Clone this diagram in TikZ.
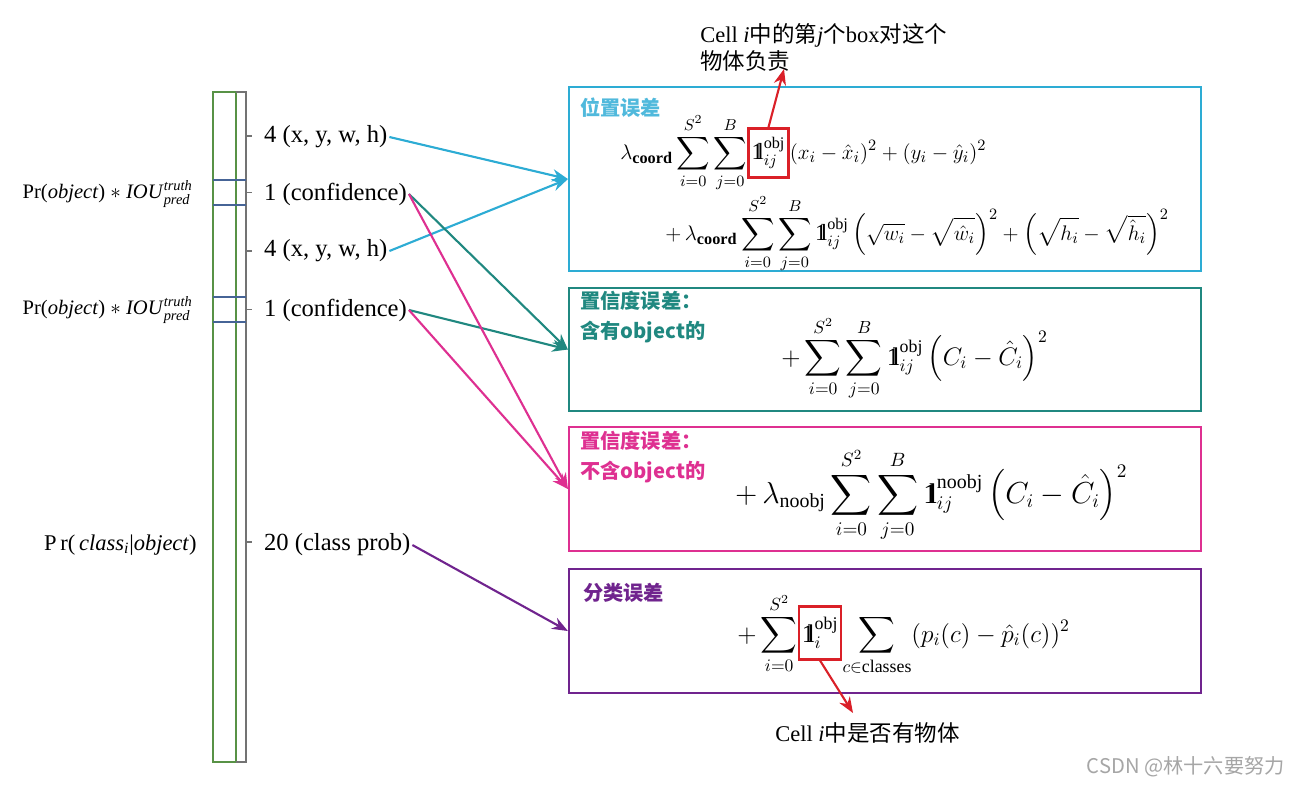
\documentclass[tikz,border=0pt]{standalone}
\usepackage{amsmath, amssymb}
\usepackage{fontspec}
\setmainfont{Liberation Serif}
\newfontfamily\cjk{Noto Sans CJK SC}
\usepackage{tikz}
\usetikzlibrary{arrows.meta,positioning,calc}

\definecolor{locblue}{RGB}{45,172,212}
\definecolor{loctitle}{RGB}{80,185,220}
\definecolor{confteal}{RGB}{32,136,128}
\definecolor{noobjpink}{RGB}{222,48,145}
\definecolor{clspurple}{RGB}{112,36,142}
\definecolor{markred}{RGB}{218,32,40}
\definecolor{vecgreen}{RGB}{88,146,70}
\definecolor{slate}{RGB}{70,100,150}

\newcommand{\indic}{\mathrm{1}\mkern-5mu\mathrm{l}}

\begin{document}
\begin{tikzpicture}[
    x=0.02cm, y=-0.02cm,
    errbox/.style={rectangle, draw=#1, line width=1.3pt, minimum width=12.64cm, minimum height=2.47cm, inner sep=0pt},
    boxtitle/.style={anchor=north west, align=left, text=#1, inner sep=0pt, font=\cjk\bfseries\fontsize{11.5}{17}\selectfont},
    field/.style={anchor=west, inner sep=1pt, font=\fontsize{14}{16}\selectfont},
    prlabel/.style={anchor=east, inner sep=0pt, font=\fontsize{#1}{13}\selectfont},
    prlabel/.default=11.7,
    formula/.style={anchor=base west, inner sep=0pt, font=\fontsize{#1}{#1}\selectfont},
    formula/.default=13.2,
    redbox/.style={draw=markred, line width=1.3pt, inner sep=1pt},
    arrow/.style={-{Stealth[length=9pt,width=7pt]}, line width=1.2pt, draw=#1},
    note/.style={anchor=west, align=left, inner sep=0pt, font=\fontsize{12.8}{15.4}\selectfont}
]
\fill[white] (0,0) rectangle (1297,785);
\useasboundingbox (0,0) rectangle (1297,785);

\draw[vecgreen, line width=1pt] (213,92) rectangle (236,762);
\foreach \a/\b in {92/180,180/205,205/297,297/322,322/762}
  \draw[black!55, line width=0.6pt] (236,\a) -- (246,\a) -- (246,\b) -- (236,\b)
    (246,{(\a+\b)/2}) -- (252,{(\a+\b)/2});
\foreach \y in {180,205,297,322}
  \draw[slate, line width=1pt] (213,\y) -- (246,\y);

\node[field] (xywh1) at (262,137) {4 (x, y, w, h)};
\node[field] (conf1) at (262,194) {1 (confidence)};
\node[field] (xywh2) at (262,251) {4 (x, y, w, h)};
\node[field] (conf2) at (262,310) {1 (confidence)};
\node[field] (cls) at (262,545) {20 (class prob)};

\node[prlabel] (pr1) at (193,194) {Pr(\textit{object}) $*$ \textit{IOU}$^{\textit{truth}}_{\textit{pred}}$};
\node[prlabel] (pr2) at (193,310) {Pr(\textit{object}) $*$ \textit{IOU}$^{\textit{truth}}_{\textit{pred}}$};
\node[prlabel=12.8] (pr3) at (197,545) {P\,r(\,\textit{class}$_{\textit{i}}$|\textit{object})};

\node[errbox=locblue, minimum height=3.68cm] (loc) at (885,179) {};
\node[errbox=confteal] (objc) at (885,349.5) {};
\node[errbox=noobjpink] (noobjc) at (885,489) {};
\node[errbox=clspurple] (clsc) at (885,631) {};

\node[boxtitle=loctitle] (loct) at (580,97) {位置误差};
\node[boxtitle=confteal] (objt) at (580,291) {置信度误差：\\含有object的};
\node[boxtitle=noobjpink] (noobjt) at (580,431) {置信度误差：\\不含object的};
\node[boxtitle=clspurple] (clst) at (583,583) {分类误差};

\node[formula] (l1a) at (620,159) {$\displaystyle\lambda_{\textbf{coord}}\sum_{i=0}^{S^2}\sum_{j=0}^{B}$};
\node[formula, redbox, minimum width=0.8cm, minimum height=0.98cm] (l1b) at (l1a.base east) {$\displaystyle\indic_{ij}^{\text{obj}}$};
\node[formula] (l1c) at (l1b.base east) {$\displaystyle(x_i-\hat{x}_i)^2+(y_i-\hat{y}_i)^2$};
\node[formula] (l2) at (665,240) {$\displaystyle+\,\lambda_{\textbf{coord}}\sum_{i=0}^{S^2}\sum_{j=0}^{B}\indic_{ij}^{\text{obj}}\left(\sqrt{w_i}-\sqrt{\hat{w}_i}\right)^2+\left(\sqrt{h_i}-\sqrt{\hat{h}_i}\right)^2$};

\node[formula=14.5] (l3) at (781,365) {$\displaystyle+\sum_{i=0}^{S^2}\sum_{j=0}^{B}\indic_{ij}^{\text{obj}}\left(C_i-\hat{C}_i\right)^2$};
\node[formula=16.2] (l4) at (735,503) {$\displaystyle+\,\lambda_{\text{noobj}}\sum_{i=0}^{S^2}\sum_{j=0}^{B}\indic_{ij}^{\text{noobj}}\left(C_i-\hat{C}_i\right)^2$};

\node[formula=14.5] (l5a) at (737,642) {$\displaystyle+\sum_{i=0}^{S^2}$};
\node[formula=14.5, redbox, minimum width=0.84cm, minimum height=1.06cm] (l5b) at (l5a.base east) {$\displaystyle\indic_{i}^{\text{obj}}$};
\node[formula=14.5] (l5c) at (l5b.base east) {$\displaystyle\sum_{c\in\text{classes}}(p_i(c)-\hat{p}_i(c))^2$};

\draw[arrow=locblue] (xywh1.east) -- (loc.west);
\draw[arrow=locblue] (xywh2.east) -- (loc.west);
\draw[arrow=confteal] (conf1.east) -- (objc.west);
\draw[arrow=confteal] (conf2.east) -- (objc.west);
\draw[arrow=noobjpink] (conf1.east) -- (noobjc.west);
\draw[arrow=noobjpink] (conf2.east) -- (noobjc.west);
\draw[arrow=clspurple] (cls.east) -- (clsc.west);

\node[note] (topnote) at (700,47) {Cell \textit{i}{\cjk 中的第}\textit{j}{\cjk 个}box{\cjk 对这个}\\{\cjk 物体负责}};
\coordinate (toptip) at (784,69);
\draw[arrow=markred] (l1b.north) -- (toptip);
\node[note] (botnote) at (775,733) {Cell \textit{i}{\cjk 中是否有物体}};
\coordinate (bottip) at (853,713);
\draw[arrow=markred] (l5b.south) -- (bottip);

\node[anchor=east, inner sep=0pt, text=black!35, font=\cjk\fontsize{11.5}{13}\selectfont] (mark) at (1285,767) {CSDN @林十六要努力};
\end{tikzpicture}
\end{document}
